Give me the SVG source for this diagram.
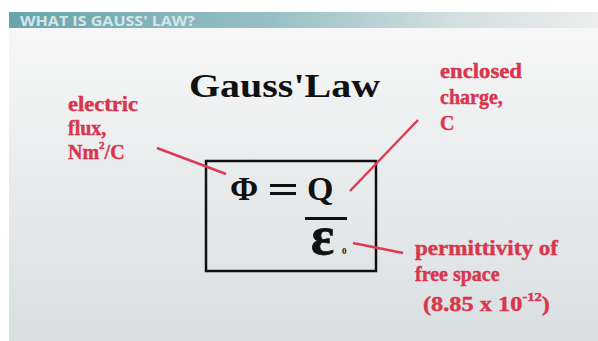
<svg xmlns="http://www.w3.org/2000/svg" width="598" height="341" viewBox="0 0 598 341">
<defs>
<linearGradient id="bg" x1="0" y1="0" x2="0" y2="1">
<stop offset="0" stop-color="#f8f8f8"/>
<stop offset="1" stop-color="#d9dfe1"/>
</linearGradient>
<linearGradient id="hdr" x1="0" y1="0" x2="1" y2="0">
<stop offset="0" stop-color="#6aa3aa"/>
<stop offset="0.45" stop-color="#97c0c5"/>
<stop offset="0.75" stop-color="#d2dee0"/>
<stop offset="1" stop-color="#eceeee"/>
</linearGradient>
<style>
.lbl{font-family:"Liberation Serif",serif;font-weight:bold;font-size:20px;fill:#d9354d;stroke:#d9354d;stroke-width:0.4}
.eq{font-family:"Liberation Serif",serif;font-weight:bold;fill:#111}
.conn{stroke:#dc3b55;stroke-width:2.5;fill:none}
</style>
</defs>
<rect width="598" height="341" fill="#ffffff"/>
<rect x="9" y="12" width="589" height="329" fill="url(#bg)"/>
<rect x="9" y="12" width="589" height="16" fill="url(#hdr)"/>
<text x="20" y="26" font-family="Open Sans, sans-serif" font-weight="bold" font-size="15" fill="#d3e6e8" textLength="175" lengthAdjust="spacingAndGlyphs">WHAT IS GAUSS' LAW?</text>
<g id="title">
<text class="eq" x="189" y="97" font-size="33" textLength="191" lengthAdjust="spacingAndGlyphs">Gauss'Law</text>
</g>
<g id="equation">
<rect x="206" y="161" width="170" height="110" fill="none" stroke="#111" stroke-width="2.5"/>
<text class="eq" x="230" y="200" font-size="34">Φ</text>
<rect x="270" y="184" width="26" height="3" fill="#111"/>
<rect x="270" y="192" width="26" height="3" fill="#111"/>
<text class="eq" x="307" y="200" font-size="34">Q</text>
<rect x="305" y="217" width="42" height="3" fill="#111"/>
<text class="eq" x="311" y="254" font-size="54" stroke="#111" stroke-width="0.8">ε</text>
<text class="eq" x="342" y="254" font-size="9">0</text>
</g>
<g id="connectors">
<line class="conn" x1="157" y1="148" x2="226" y2="174"/>
<line class="conn" x1="418" y1="120" x2="350" y2="191"/>
<line class="conn" x1="353" y1="243" x2="403" y2="253"/>
</g>
<g id="label-flux">
<text class="lbl" x="68" y="111" textLength="70" lengthAdjust="spacingAndGlyphs">electric</text>
<text class="lbl" x="68" y="135">flux,</text>
<text class="lbl" x="68" y="159">Nm<tspan font-size="11" dy="-10">2</tspan><tspan dy="10">/C</tspan></text>
</g>
<g id="label-charge">
<text class="lbl" x="440" y="78" textLength="82" lengthAdjust="spacingAndGlyphs">enclosed</text>
<text class="lbl" x="440" y="104">charge,</text>
<text class="lbl" x="440" y="130">C</text>
</g>
<g id="label-permittivity">
<text class="lbl" x="415" y="255" textLength="143" lengthAdjust="spacingAndGlyphs">permittivity of</text>
<text class="lbl" x="415" y="281">free space</text>
<text class="lbl" x="423" y="311" textLength="127" lengthAdjust="spacingAndGlyphs">(8.85 x 10<tspan font-size="12" dy="-10">-12</tspan><tspan dy="10">)</tspan></text>
</g>
</svg>
